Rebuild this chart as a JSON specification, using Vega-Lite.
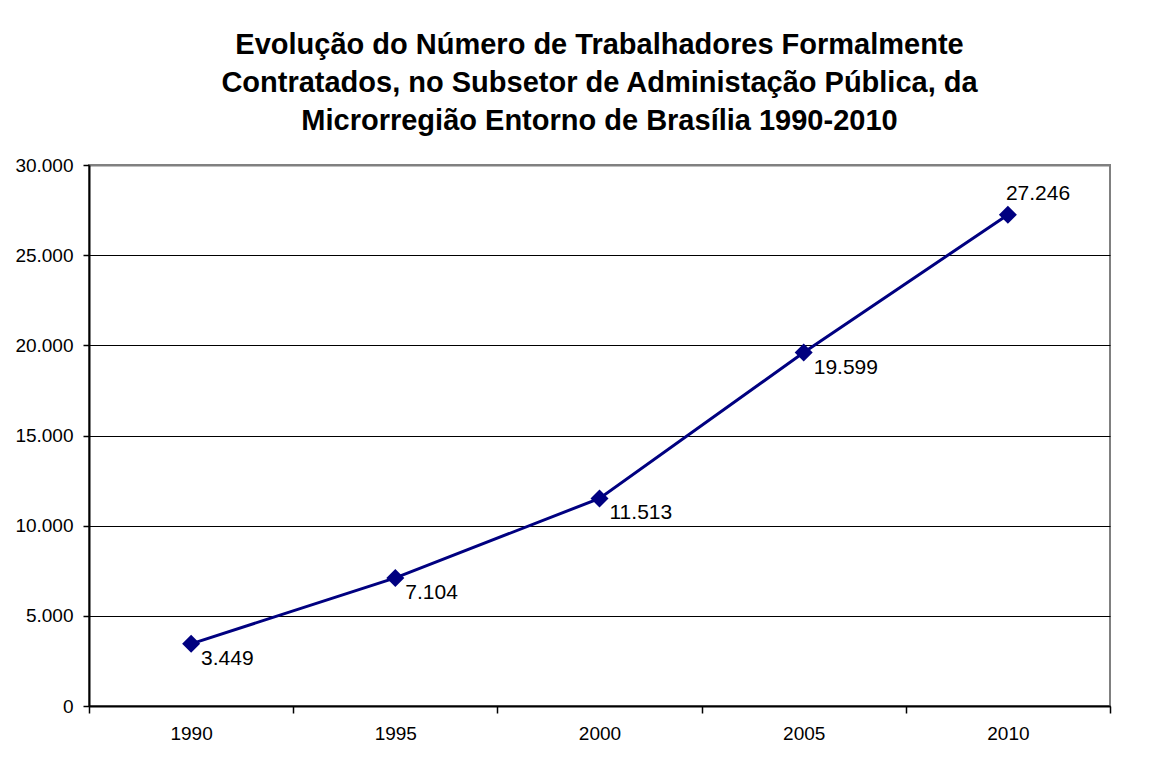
{
  "$schema": "https://vega.github.io/schema/vega-lite/v6.json",
  "width": 1021,
  "height": 541,
  "autosize": {"type": "none"},
  "padding": {"left": 89, "top": 165, "right": 40, "bottom": 61},
  "background": "white",
  "config": {
    "locale": {"number": {"decimal": ",", "thousands": ".", "grouping": [3], "currency": ["R$", ""]}},
    "font": "Liberation Sans",
    "view": {"stroke": "#808080", "strokeWidth": 2}
  },
  "title": {
    "text": ["Evolução do Número de Trabalhadores Formalmente", "Contratados, no Subsetor de Administação Pública, da", "Microrregião Entorno de Brasília 1990-2010"],
    "font": "Liberation Sans",
    "fontSize": 29,
    "fontWeight": "bold",
    "color": "black",
    "lineHeight": 38,
    "anchor": "middle",
    "offset": 20
  },
  "data": {
    "values": [
      {"ano": "1990", "trabalhadores": 3449},
      {"ano": "1995", "trabalhadores": 7104},
      {"ano": "2000", "trabalhadores": 11513},
      {"ano": "2005", "trabalhadores": 19599},
      {"ano": "2010", "trabalhadores": 27246}
    ]
  },
  "encoding": {
    "x": {
      "field": "ano",
      "type": "ordinal",
      "scale": {"type": "band", "paddingInner": 0, "paddingOuter": 0},
      "axis": {
        "title": null,
        "labelAngle": 0,
        "labelFontSize": 19,
        "labelColor": "black",
        "labelPadding": 11,
        "tickBand": "extent",
        "tickColor": "black",
        "tickSize": 7,
        "tickWidth": 1.5,
        "domainColor": "black",
        "domainWidth": 2,
        "grid": false
      }
    },
    "y": {
      "field": "trabalhadores",
      "type": "quantitative",
      "scale": {"domain": [0, 30000], "nice": false},
      "axis": {
        "title": null,
        "values": [0, 5000, 10000, 15000, 20000, 25000, 30000],
        "format": ",d",
        "labelFontSize": 19,
        "labelColor": "black",
        "labelPadding": 10,
        "tickColor": "black",
        "tickSize": 6,
        "tickWidth": 1.5,
        "domainColor": "black",
        "domainWidth": 2,
        "grid": true,
        "gridColor": {"condition": {"test": "datum.value == 30000", "value": "#808080"}, "value": "black"},
        "gridWidth": {"condition": {"test": "datum.value == 30000", "value": 2}, "value": 1},
        "gridOpacity": 1
      }
    }
  },
  "layer": [
    {
      "mark": {"type": "line", "color": "#000080", "strokeWidth": 3}
    },
    {
      "mark": {"type": "point", "shape": "diamond", "size": 324, "filled": true, "color": "#000080", "opacity": 1}
    },
    {
      "transform": [{"filter": "datum.ano != '2010'"}],
      "mark": {"type": "text", "align": "left", "baseline": "middle", "dx": 10, "dy": 15, "fontSize": 21, "color": "black"},
      "encoding": {"text": {"field": "trabalhadores", "type": "quantitative", "format": ",d"}}
    },
    {
      "transform": [{"filter": "datum.ano == '2010'"}],
      "mark": {"type": "text", "align": "left", "baseline": "middle", "dx": -2, "dy": -21, "fontSize": 21, "color": "black"},
      "encoding": {"text": {"field": "trabalhadores", "type": "quantitative", "format": ",d"}}
    }
  ]
}
